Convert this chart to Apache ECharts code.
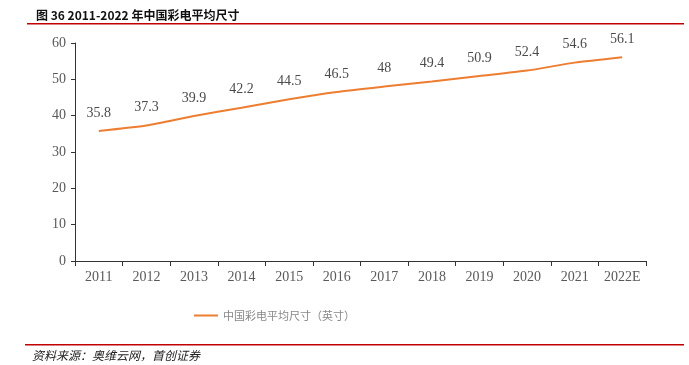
<!DOCTYPE html>
<html>
<head>
<meta charset="utf-8">
<script src="https://cdn.jsdelivr.net/npm/echarts@6/dist/echarts.min.js"></script>
<style>
  html, body { margin: 0; padding: 0; background: #fff; }
  #main { width: 689px; height: 365px; }
</style>
</head>
<body>
<div id="main"></div>
<script>
const years = ['2011', '2012', '2013', '2014', '2015', '2016', '2017', '2018', '2019', '2020', '2021', '2022E'];
const avgSize = [35.8, 37.3, 39.9, 42.2, 44.5, 46.5, 48, 49.4, 50.9, 52.4, 54.6, 56.1];
const seriesName = '中国彩电平均尺寸（英寸）';

const chart = echarts.init(document.getElementById('main'));
const serif = '"Liberation Serif", "Times New Roman", serif';
const cjk = '"Noto Sans CJK SC", sans-serif';

chart.setOption({
  animation: false,
  title: {
    text: '图 36 2011-2022 年中国彩电平均尺寸',
    left: 31, top: 4,
    textStyle: { fontFamily: cjk, fontSize: 12, fontWeight: 'bold', color: '#111' },
  },
  graphic: [
    { type: 'rect', shape: { x: 27, y: 23, width: 657, height: 1.5 }, style: { fill: '#c00000' } },
    { type: 'rect', shape: { x: 25, y: 344, width: 659, height: 1.5 }, style: { fill: '#c00000' } },
    {
      type: 'text', left: 32, top: 349,
      style: { text: '资料来源：奥维云网，首创证券', font: 'italic 12px ' + cjk, fill: '#222' },
    },
  ],
  grid: { left: 75, right: 43, top: 43, bottom: 104 },
  legend: {
    data: [seriesName],
    left: 189, top: 305,
    itemWidth: 24, itemHeight: 2, itemGap: 4,
    icon: 'rect',
    textStyle: { fontFamily: cjk, fontSize: 11, color: '#888' },
  },
  xAxis: {
    type: 'category', data: years, boundaryGap: true,
    axisLine: { lineStyle: { color: '#333', width: 1 } },
    axisTick: { show: true, alignWithLabel: false, length: 5, lineStyle: { color: '#333' } },
    axisLabel: { fontFamily: serif, fontSize: 14, color: '#595959', margin: 9 },
  },
  yAxis: {
    type: 'value', min: 0, max: 60, interval: 10,
    axisLine: { show: true, lineStyle: { color: '#333', width: 1 } },
    axisTick: { show: true, length: 4, lineStyle: { color: '#333' } },
    axisLabel: { fontFamily: serif, fontSize: 14, color: '#595959', margin: 9 },
    splitLine: { show: false },
  },
  series: [{
    name: seriesName, type: 'line', data: avgSize,
    smooth: 0.2, symbol: 'circle', symbolSize: 0, showSymbol: true,
    lineStyle: { color: '#ED7D31', width: 2 },
    itemStyle: { color: '#ED7D31' },
    label: {
      show: true, position: 'top', distance: 11,
      fontFamily: serif, fontSize: 14, color: '#4a4a4a',
    },
  }],
});
</script>
</body>
</html>
